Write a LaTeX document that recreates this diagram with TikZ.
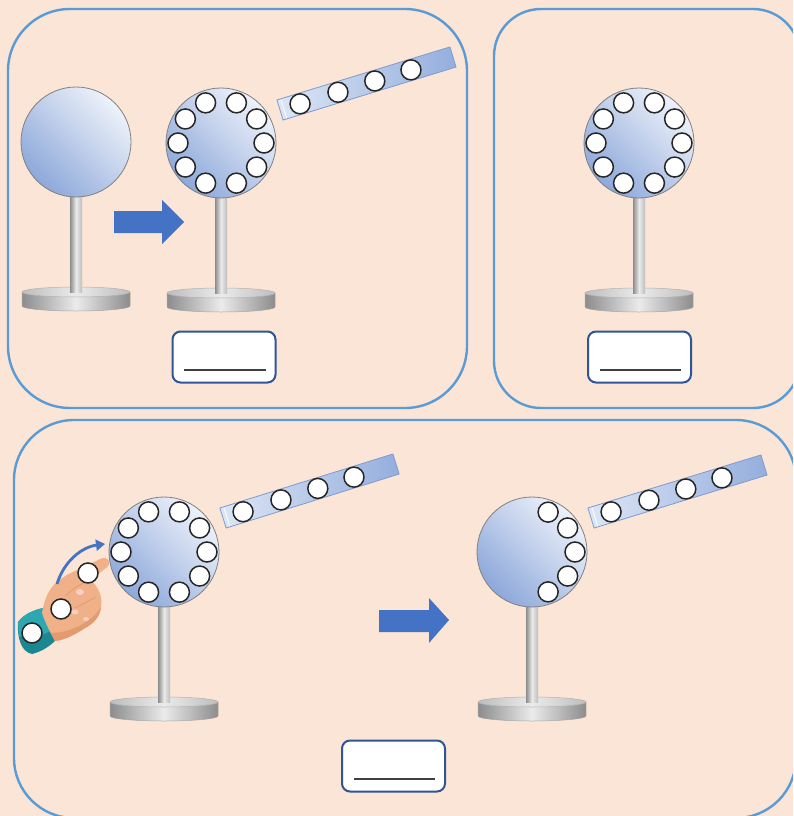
\documentclass[tikz,border=0pt]{standalone}
\usetikzlibrary{arrows.meta,calc}

\definecolor{bgpeach}{HTML}{FBE5D6}
\definecolor{panelblue}{HTML}{5B9BD5}
\definecolor{arrowblue}{HTML}{4472C4}
\definecolor{boxblue}{HTML}{2F5597}
\definecolor{sphdark}{HTML}{8DA8DA}
\definecolor{sphlight}{HTML}{EEF2FA}
\definecolor{tubelight}{HTML}{DDE6F5}
\definecolor{tubedark}{HTML}{94AEDD}
\definecolor{tubeedge}{HTML}{7E9BCF}
\definecolor{skin}{HTML}{F0B189}
\definecolor{skindark}{HTML}{E39A6E}
\definecolor{nail}{HTML}{F7CFC6}
\definecolor{cuff}{HTML}{2DA8B2}
\definecolor{cuffdark}{HTML}{1B8891}
\definecolor{steeldark}{HTML}{8C8C8C}
\definecolor{steelmid}{HTML}{BDBDBD}
\definecolor{steellight}{HTML}{EBEBEB}

\tikzset{
  panel/.style={draw=panelblue, line width=2.4pt},
  charge/.style={fill=white, draw=black!85, line width=1.5pt},
  labelbox/.style={draw=boxblue, line width=2pt, fill=white, rounded corners=8pt,
    minimum width=103pt, minimum height=51pt, inner sep=0pt},
  bigarrow/.style={fill=arrowblue, draw=none},
  sphere/.pic={
    \shade[shading=axis, bottom color=sphdark, top color=sphlight, shading angle=-45,
      draw=black!50, line width=0.8pt] (0,0) circle (55pt);
  },
  stand/.pic={
    % base disc: side wall, then top face
    \shade[left color=steeldark, right color=steeldark, middle color=steellight,
      draw=black!35, line width=0.5pt]
      (-54,150) -- (-54,164) arc[start angle=180, end angle=360, x radius=54pt, y radius=5pt]
      -- (54,150) -- cycle;
    \shade[left color=steelmid, right color=steelmid, middle color=steellight,
      draw=black!30, line width=0.5pt] (0,150) ellipse [x radius=54pt, y radius=5pt];
    % rod
    \shade[left color=steeldark, right color=steelmid, middle color=steellight]
      (-6,40) rectangle (6,150);
  },
  fullring/.pic={
    \foreach \a in {0,34,69,111,146,180,214,249,291,326}
      \draw[charge] (\a:43pt) circle (10pt);
  },
  halfring/.pic={
    \foreach \a in {-68,-34,0,34,68}
      \draw[charge] (\a:43pt) circle (10pt);
  }
}

% glass rod between two axis points, with four charges along it
\newcommand\glassrod[3]{%
  \path #1 coordinate (#3a) #2 coordinate (#3b);
  \shade[left color=tubelight, right color=tubedark, draw=tubeedge, line width=0.8pt]
    ($(#3a)!10.5pt!90:(#3b)$) -- ($(#3b)!10.5pt!-90:(#3a)$)
    -- ($(#3b)!10.5pt!90:(#3a)$) -- ($(#3a)!10.5pt!-90:(#3b)$) -- cycle;
  \draw[white, line width=0.8pt]
    ($($(#3a)!4pt!(#3b)$)!9.5pt!90:(#3b)$) -- ($($(#3a)!4pt!(#3b)$)!9.5pt!-90:(#3b)$);
  \foreach \f in {0.116,0.335,0.548,0.757}
    \draw[charge] ($(#3a)!\f!(#3b)$) circle (10pt);
}

\begin{document}
\begin{tikzpicture}[x=1pt, y=-1pt]
  \useasboundingbox (0,0) rectangle (793,816);
  \fill[bgpeach] (0,0) rectangle (793,816);
  \clip (0,0) rectangle (793,816);

  % ---------- panels ----------
  \draw[panel, rounded corners=62pt] (8,9) rectangle (467,408);
  \draw[panel, rounded corners=47pt] (494,9) rectangle (800,408);
  \draw[panel, rounded corners=60pt] (14,420) rectangle (796,818);

  % ---------- panel 1 ----------
  \pic at (76,142) {stand};
  \pic at (76,142) {sphere};

  \fill[bigarrow] (114,211) -- (162,211) -- (162,200) -- (184,222)
    -- (162,244) -- (162,233) -- (114,233) -- cycle;

  \pic at (221,143) {stand};
  \pic at (221,143) {sphere};
  \pic at (221,143) {fullring};
  \glassrod{(280,110)}{(453,57)}{ra}

  \node[labelbox] (blank1) at (224,357) {};
  \draw[black!75, line width=1.2pt] (184,370) -- (266,370);

  % ---------- panel 2 ----------
  \pic at (639,143) {stand};
  \pic at (639,143) {sphere};
  \pic at (639,143) {fullring};

  \node[labelbox] (blank2) at (639.5,357) {};
  \draw[black!75, line width=1.2pt] (600,370) -- (681,370);

  % ---------- panel 3 ----------
  % hand with cuff
  \fill[cuffdark] (18,622) .. controls (24,614) and (34,610) .. (43,608)
    -- (56,640) .. controls (48,648) and (40,652) .. (32,654)
    .. controls (22,652) and (17,640) .. (18,622) -- cycle;
  \fill[cuff] (18,622) .. controls (24,614) and (34,610) .. (43,608)
    -- (52,630) .. controls (42,636) and (30,640) .. (19,636) -- cycle;
  \fill[skin] (42,613) .. controls (44,600) and (49,588) .. (57,582)
    .. controls (64,576) and (72,572) .. (82,568) -- (100,559)
    .. controls (108,555) and (113,563) .. (106,568) -- (90,580)
    .. controls (98,586) and (103,596) .. (101,607)
    .. controls (100,617) and (93,624) .. (85,628)
    .. controls (76,634) and (65,640) .. (55,641)
    .. controls (50,632) and (45,622) .. (42,613) -- cycle;
  \fill[skindark] (101,607) .. controls (100,617) and (93,624) .. (85,628)
    .. controls (76,634) and (65,640) .. (55,641)
    .. controls (53,638) and (52,635) .. (51,633)
    .. controls (66,633) and (84,626) .. (96,614) -- cycle;
  \draw[skindark, line width=0.8pt] (90,580) .. controls (82,584) and (72,588) .. (66,596);
  \draw[skindark, line width=0.8pt] (96,597) .. controls (89,601) and (81,605) .. (75,608);
  \fill[nail] (80,592) ellipse [x radius=4pt, y radius=3pt];
  \fill[nail] (75,612) ellipse [x radius=3.5pt, y radius=2.5pt];
  \fill[nail] (86,619) ellipse [x radius=3pt, y radius=2pt];

  \coordinate (swipeA) at (57,584);
  \coordinate (swipeB) at (105,544);
  \draw[arrowblue, line width=2.8pt, -{Triangle[length=9pt, width=11pt]}]
    (swipeA) .. controls (64,561) and (82,547) .. (swipeB);

  \pic at (164,552) {stand};
  \pic at (164,552) {sphere};
  \pic at (164,552) {fullring};
  \glassrod{(223,518)}{(396,464)}{rb}

  \draw[charge] (88,573) circle (10pt);
  \draw[charge] (61,609) circle (10pt);
  \draw[charge] (32,633) circle (10pt);

  \fill[bigarrow] (379,610) -- (429,610) -- (429,598) -- (449,620)
    -- (429,643) -- (429,632) -- (379,632) -- cycle;

  \pic at (532,552) {stand};
  \pic at (532,552) {sphere};
  \pic at (532,552) {halfring};
  \glassrod{(591,518)}{(764,465)}{rc}

  \node[labelbox] (blank3) at (393.5,766) {};
  \draw[black!75, line width=1.2pt] (354,779) -- (435,779);
\end{tikzpicture}
\end{document}
